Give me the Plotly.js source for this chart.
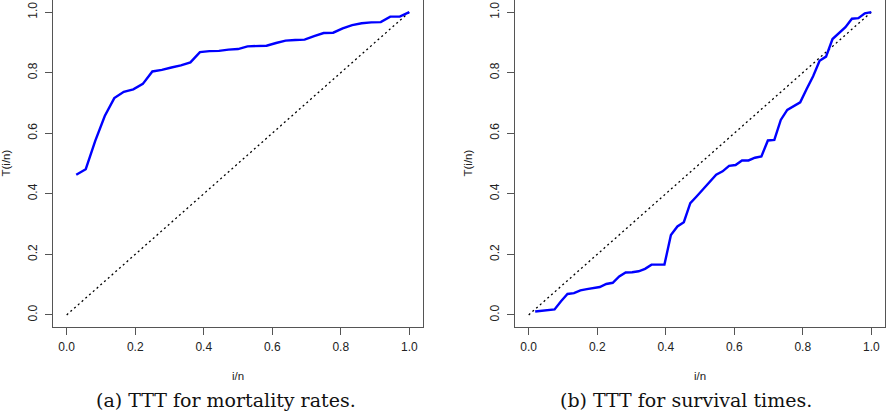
<!DOCTYPE html>
<html>
<head>
<meta charset="utf-8">
<script src="https://cdn.plot.ly/plotly-3.0.1.min.js"></script>
<style>html,body{margin:0;padding:0;background:#fff;}#chart{width:886px;height:413px;}</style>
</head>
<body>
<div id="chart"></div>
<script>
// (a) TTT for mortality rates, n = 36
const mortX = [0.0278,0.0556,0.0833,0.1111,0.1389,0.1667,0.1944,0.2222,0.25,0.2778,0.3056,0.3333,0.3611,0.3889,0.4167,0.4444,0.4722,0.5,0.5278,0.5556,0.5833,0.6111,0.6389,0.6667,0.6944,0.7222,0.75,0.7778,0.8056,0.8333,0.8611,0.8889,0.9167,0.9444,0.9722,1.0];
const mortT = [0.463,0.481,0.575,0.657,0.716,0.737,0.745,0.763,0.804,0.809,0.817,0.824,0.834,0.868,0.871,0.872,0.876,0.878,0.887,0.887,0.889,0.898,0.906,0.908,0.909,0.921,0.931,0.932,0.946,0.957,0.963,0.966,0.967,0.985,0.985,1.0];
// (b) TTT for survival times, n = 53
const survX = [0.0189,0.0377,0.0566,0.0755,0.0943,0.1132,0.1321,0.1509,0.1698,0.1887,0.2075,0.2264,0.2453,0.2642,0.2830,0.3019,0.3208,0.3396,0.3585,0.3774,0.3962,0.4151,0.4340,0.4528,0.4717,0.4906,0.5094,0.5283,0.5472,0.5660,0.5849,0.6038,0.6226,0.6415,0.6604,0.6792,0.6981,0.7170,0.7358,0.7547,0.7736,0.7925,0.8113,0.8302,0.8491,0.8679,0.8868,0.9057,0.9245,0.9434,0.9623,0.9811,1.0];
const survT = [0.011,0.014,0.017,0.018,0.045,0.069,0.072,0.081,0.085,0.088,0.092,0.102,0.106,0.127,0.140,0.141,0.144,0.152,0.166,0.166,0.166,0.264,0.292,0.306,0.369,0.392,0.415,0.440,0.463,0.474,0.492,0.495,0.510,0.510,0.519,0.523,0.576,0.578,0.644,0.677,0.690,0.702,0.746,0.788,0.839,0.853,0.911,0.930,0.950,0.978,0.980,0.996,1.0];
// reference diagonal
const diagX = [0, 1];
const diagY = [0, 1];
const tickVals = [0, 0.2, 0.4, 0.6, 0.8, 1.0];
const tickText = ['0.0', '0.2', '0.4', '0.6', '0.8', '1.0'];
const xTitle = 'i/n';
const yTitle = 'T(i/n)';
const captions = ['(a) TTT for mortality rates.', '(b) TTT for survival times.'];

const W = 886, H = 413;
const blue = '#0000ff';
const diagStyle = {color: '#000', width: 1.3, dash: '2px,3px'};
const traces = [
  {x: diagX, y: diagY, xaxis: 'x', yaxis: 'y', mode: 'lines', line: diagStyle, hoverinfo: 'skip'},
  {x: mortX, y: mortT, xaxis: 'x', yaxis: 'y', mode: 'lines', line: {color: blue, width: 2.4}},
  {x: diagX, y: diagY, xaxis: 'x2', yaxis: 'y2', mode: 'lines', line: diagStyle, hoverinfo: 'skip'},
  {x: survX, y: survT, xaxis: 'x2', yaxis: 'y2', mode: 'lines', line: {color: blue, width: 2.4}}
];

const tickFont = {family: 'Liberation Sans, Arial, sans-serif', size: 12, color: '#222'};
function ax(domain, anchor, isY) {
  const a = {
    domain: domain, anchor: anchor, range: [-0.04, 1.04],
    tickmode: 'array', tickvals: tickVals, ticktext: tickText,
    ticks: 'outside', ticklen: 7, tickwidth: 1, tickcolor: '#555',
    showline: true, mirror: true, linecolor: '#555', linewidth: 1,
    showgrid: false, zeroline: false, tickfont: tickFont, fixedrange: true
  };
  if (isY) { a.tickangle = -90; a.ticklabelstandoff = 3; }
  else { a.ticklabelstandoff = 2; }
  return a;
}
const yDom = [1 - 327 / H, 1];
const px = v => v / W, py = v => 1 - v / H;
const titleFont = {family: 'Liberation Sans, Arial, sans-serif', size: 11.5, color: '#222'};
const capFont = {family: 'DejaVu Serif, serif', size: 19, color: '#111'};
const ann = [
  {text: xTitle, x: px(238), y: py(376), font: titleFont},
  {text: xTitle, x: px(700), y: py(376), font: titleFont},
  {text: yTitle, x: px(5), y: py(163.5), font: titleFont, textangle: -90},
  {text: yTitle, x: px(467), y: py(163.5), font: titleFont, textangle: -90},
  {text: captions[0], x: px(226), y: py(400), font: capFont},
  {text: captions[1], x: px(686), y: py(400), font: capFont}
].map(a => Object.assign({xref: 'paper', yref: 'paper', showarrow: false, xanchor: 'center', yanchor: 'middle'}, a));

const layout = {
  width: W, height: H,
  margin: {l: 0, r: 0, t: 0, b: 0, pad: 0},
  paper_bgcolor: '#fff', plot_bgcolor: '#fff',
  showlegend: false,
  xaxis: ax([53 / W, 423 / W], 'y', false),
  yaxis: ax(yDom, 'x', true),
  xaxis2: ax([515 / W, 885 / W], 'y2', false),
  yaxis2: ax(yDom, 'x2', true),
  annotations: ann
};
Plotly.newPlot('chart', traces, layout, {staticPlot: true, displayModeBar: false});
</script>
</body>
</html>
